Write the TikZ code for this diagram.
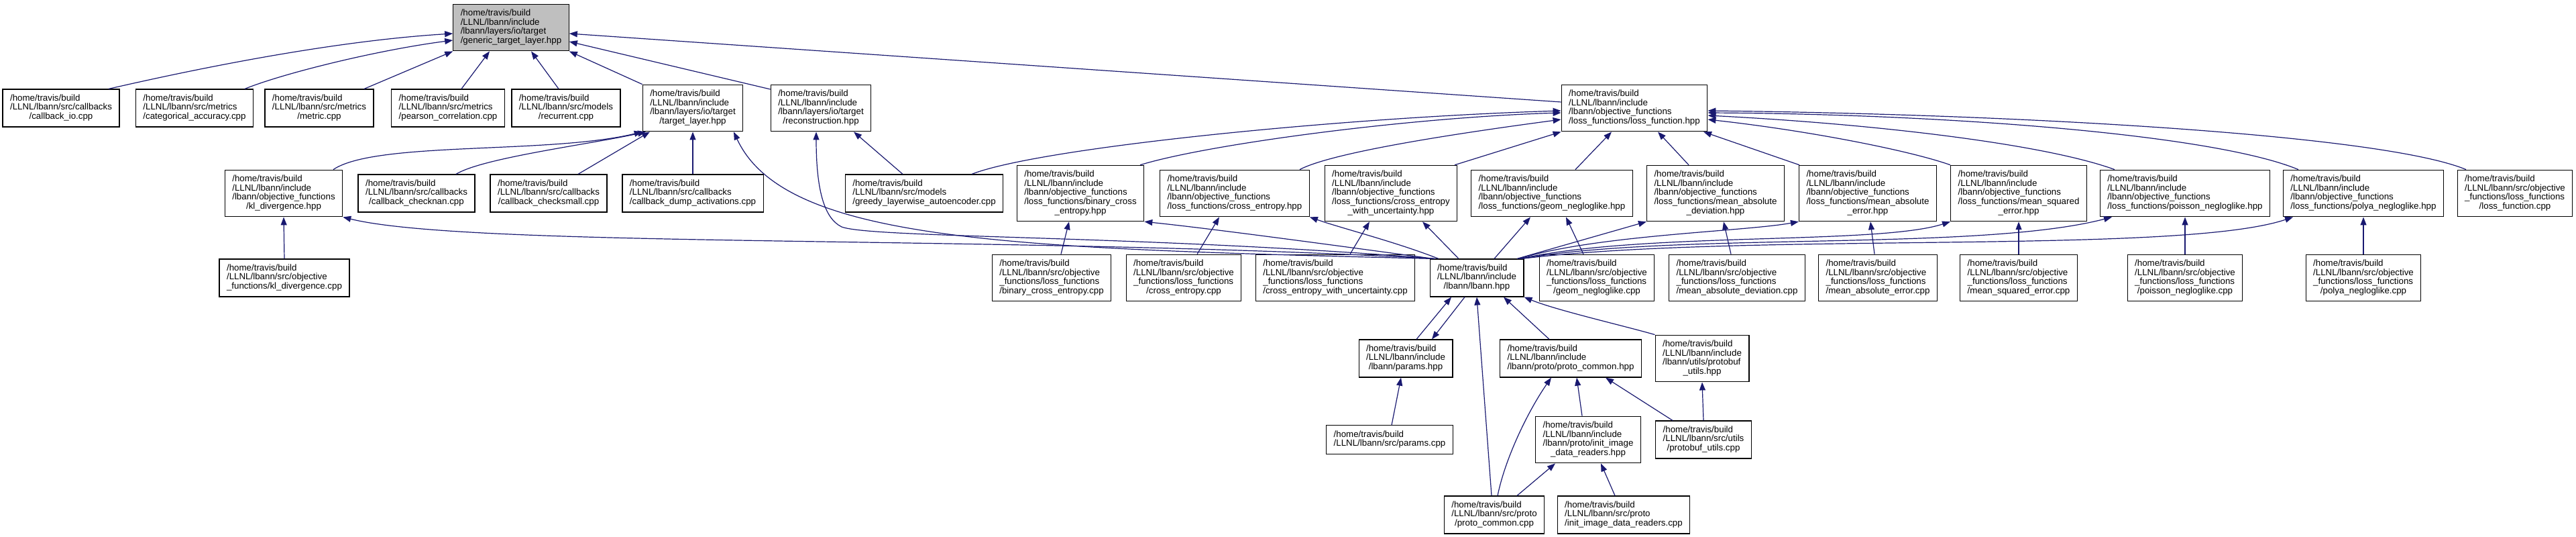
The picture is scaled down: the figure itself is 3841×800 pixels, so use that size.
\documentclass[tikz,border=0pt]{standalone}
\usepackage{fontspec}
\setmainfont{Liberation Sans}
\usetikzlibrary{arrows.meta}
\definecolor{edgeblue}{HTML}{191970}
\definecolor{rootgray}{HTML}{BFBFBF}
\newcommand{\flabel}[2]{\begin{tabular}{@{}l@{}}#1\\\multicolumn{1}{@{}c@{}}{#2}\end{tabular}}
\tikzset{
  >={Triangle[length=12pt,width=9pt]},
  file/.style={draw=black,line width=1.2pt,fill=white,inner xsep=11pt,inner ysep=7.5pt,font=\fontsize{13.33}{13.33}\selectfont},
  rootfile/.style={file,fill=rootgray},
  dep/.style={->,draw=edgeblue,line width=1.2pt}
}
\begin{document}
\begin{tikzpicture}[x=1pt,y=-1pt]
  \useasboundingbox (0,0) rectangle (3841,800);

  % header of the graph
  \node[rootfile] (gen) at (762,41) {\flabel{/home/travis/build\\/LLNL/lbann/include\\/lbann/layers/io/target}{/generic\_target\_layer.hpp}};

  % first row
  \node[file] (cbio) at (91,161) {\flabel{/home/travis/build\\/LLNL/lbann/src/callbacks}{/callback\_io.cpp}};
  \node[file] (catacc) at (290,161) {\flabel{/home/travis/build\\/LLNL/lbann/src/metrics}{/categorical\_accuracy.cpp}};
  \node[file] (metric) at (476,161) {\flabel{/home/travis/build\\/LLNL/lbann/src/metrics}{/metric.cpp}};
  \node[file] (pearson) at (668,161) {\flabel{/home/travis/build\\/LLNL/lbann/src/metrics}{/pearson\_correlation.cpp}};
  \node[file] (recur) at (844,161) {\flabel{/home/travis/build\\/LLNL/lbann/src/models}{/recurrent.cpp}};
  \node[file] (tlayer) at (1033,161) {\flabel{/home/travis/build\\/LLNL/lbann/include\\/lbann/layers/io/target}{/target\_layer.hpp}};
  \node[file] (recon) at (1224,161) {\flabel{/home/travis/build\\/LLNL/lbann/include\\/lbann/layers/io/target}{/reconstruction.hpp}};
  \node[file] (lossh) at (2437,161) {\flabel{/home/travis/build\\/LLNL/lbann/include\\/lbann/objective\_functions}{/loss\_functions/loss\_function.hpp}};

  % second row
  \node[file] (kldh) at (423,288) {\flabel{/home/travis/build\\/LLNL/lbann/include\\/lbann/objective\_functions}{/kl\_divergence.hpp}};
  \node[file] (cknan) at (621,288) {\flabel{/home/travis/build\\/LLNL/lbann/src/callbacks}{/callback\_checknan.cpp}};
  \node[file] (cksmall) at (818,288) {\flabel{/home/travis/build\\/LLNL/lbann/src/callbacks}{/callback\_checksmall.cpp}};
  \node[file] (dumpact) at (1033,288) {\flabel{/home/travis/build\\/LLNL/lbann/src/callbacks}{/callback\_dump\_activations.cpp}};
  \node[file] (greedy) at (1378,288) {\flabel{/home/travis/build\\/LLNL/lbann/src/models}{/greedy\_layerwise\_autoencoder.cpp}};
  \node[file] (bceh) at (1611,288) {\flabel{/home/travis/build\\/LLNL/lbann/include\\/lbann/objective\_functions\\/loss\_functions/binary\_cross}{\_entropy.hpp}};
  \node[file] (ceh) at (1841,288) {\flabel{/home/travis/build\\/LLNL/lbann/include\\/lbann/objective\_functions}{/loss\_functions/cross\_entropy.hpp}};
  \node[file] (ceuh) at (2074,288) {\flabel{/home/travis/build\\/LLNL/lbann/include\\/lbann/objective\_functions\\/loss\_functions/cross\_entropy}{\_with\_uncertainty.hpp}};
  \node[file] (geomh) at (2314,288) {\flabel{/home/travis/build\\/LLNL/lbann/include\\/lbann/objective\_functions}{/loss\_functions/geom\_negloglike.hpp}};
  \node[file] (madh) at (2558,288) {\flabel{/home/travis/build\\/LLNL/lbann/include\\/lbann/objective\_functions\\/loss\_functions/mean\_absolute}{\_deviation.hpp}};
  \node[file] (maeh) at (2785,288) {\flabel{/home/travis/build\\/LLNL/lbann/include\\/lbann/objective\_functions\\/loss\_functions/mean\_absolute}{\_error.hpp}};
  \node[file] (mseh) at (3010,288) {\flabel{/home/travis/build\\/LLNL/lbann/include\\/lbann/objective\_functions\\/loss\_functions/mean\_squared}{\_error.hpp}};
  \node[file] (poish) at (3258,288) {\flabel{/home/travis/build\\/LLNL/lbann/include\\/lbann/objective\_functions}{/loss\_functions/poisson\_negloglike.hpp}};
  \node[file] (polyah) at (3524,288) {\flabel{/home/travis/build\\/LLNL/lbann/include\\/lbann/objective\_functions}{/loss\_functions/polya\_negloglike.hpp}};
  \node[file] (lossc) at (3750,288) {\flabel{/home/travis/build\\/LLNL/lbann/src/objective\\\_functions/loss\_functions}{/loss\_function.cpp}};

  % third row
  \node[file] (kldc) at (424,414) {\flabel{/home/travis/build\\/LLNL/lbann/src/objective}{\_functions/kl\_divergence.cpp}};
  \node[file] (bcec) at (1568,414) {\flabel{/home/travis/build\\/LLNL/lbann/src/objective\\\_functions/loss\_functions}{/binary\_cross\_entropy.cpp}};
  \node[file] (cec) at (1765,414) {\flabel{/home/travis/build\\/LLNL/lbann/src/objective\\\_functions/loss\_functions}{/cross\_entropy.cpp}};
  \node[file] (ceuc) at (1991,414) {\flabel{/home/travis/build\\/LLNL/lbann/src/objective\\\_functions/loss\_functions}{/cross\_entropy\_with\_uncertainty.cpp}};
  \node[file] (lbann) at (2202,414) {\flabel{/home/travis/build\\/LLNL/lbann/include}{/lbann/lbann.hpp}};
  \node[file] (geomc) at (2381,414) {\flabel{/home/travis/build\\/LLNL/lbann/src/objective\\\_functions/loss\_functions}{/geom\_negloglike.cpp}};
  \node[file] (madc) at (2590,414) {\flabel{/home/travis/build\\/LLNL/lbann/src/objective\\\_functions/loss\_functions}{/mean\_absolute\_deviation.cpp}};
  \node[file] (maec) at (2800,414) {\flabel{/home/travis/build\\/LLNL/lbann/src/objective\\\_functions/loss\_functions}{/mean\_absolute\_error.cpp}};
  \node[file] (msec) at (3010,414) {\flabel{/home/travis/build\\/LLNL/lbann/src/objective\\\_functions/loss\_functions}{/mean\_squared\_error.cpp}};
  \node[file] (poisc) at (3258,414) {\flabel{/home/travis/build\\/LLNL/lbann/src/objective\\\_functions/loss\_functions}{/poisson\_negloglike.cpp}};
  \node[file] (polyac) at (3524,414) {\flabel{/home/travis/build\\/LLNL/lbann/src/objective\\\_functions/loss\_functions}{/polya\_negloglike.cpp}};

  % below lbann.hpp
  \node[file] (parh) at (2096,534) {\flabel{/home/travis/build\\/LLNL/lbann/include}{/lbann/params.hpp}};
  \node[file] (protoh) at (2342,534) {\flabel{/home/travis/build\\/LLNL/lbann/include}{/lbann/proto/proto\_common.hpp}};
  \node[file] (pbuh) at (2538,534) {\flabel{/home/travis/build\\/LLNL/lbann/include\\/lbann/utils/protobuf}{\_utils.hpp}};
  \node[file] (parc) at (2072,655) {\flabel{/home/travis/build}{/LLNL/lbann/src/params.cpp}};
  \node[file] (inith) at (2368,655) {\flabel{/home/travis/build\\/LLNL/lbann/include\\/lbann/proto/init\_image}{\_data\_readers.hpp}};
  \node[file] (pbuc) at (2540,655) {\flabel{/home/travis/build\\/LLNL/lbann/src/utils}{/protobuf\_utils.cpp}};
  \node[file] (protoc) at (2228,767) {\flabel{/home/travis/build\\/LLNL/lbann/src/proto}{/proto\_common.cpp}};
  \node[file] (initc) at (2421,767) {\flabel{/home/travis/build\\/LLNL/lbann/src/proto}{/init\_image\_data\_readers.cpp}};

  % into generic_target_layer.hpp
  \draw[dep] ([xshift=71pt]cbio.north) .. controls (260,110) and (480,62) .. ([yshift=-9pt]gen.west);
  \draw[dep] ([xshift=75pt]catacc.north) .. controls (420,110) and (560,75) .. ([yshift=-19pt]gen.west);
  \draw[dep] ([xshift=67pt]metric.north) -- (gen.south west);
  \draw[dep] ([xshift=20pt]pearson.north) -- ([xshift=-32pt]gen.south);
  \draw[dep] ([xshift=-11pt]recur.north) -- ([xshift=30pt]gen.south);
  \draw[dep] (tlayer.north west) -- (gen.south east);
  \draw[dep] ([yshift=28pt]recon.west) -- ([yshift=-21pt]gen.east);
  \draw[dep] ([yshift=9pt]lossh.west) -- ([yshift=-9pt]gen.east);

  % into target_layer.hpp and reconstruction.hpp
  \draw[dep] ([xshift=74pt]kldh.north) .. controls (560,210) and (820,230) .. (tlayer.south west);
  \draw[dep] ([xshift=59pt]cknan.north) .. controls (720,235) and (880,215) .. ([xshift=-70pt]tlayer.south);
  \draw[dep] ([xshift=44pt]cksmall.north) -- ([xshift=-64pt]tlayer.south);
  \draw[dep] (dumpact.north) -- (tlayer.south);
  \draw[dep] ([xshift=-65pt]lbann.north) .. controls (1500,370) and (1170,360) .. ([xshift=61pt]tlayer.south);
  \draw[dep] ([xshift=-62pt]lbann.north) .. controls (1700,350) and (1300,355) .. (1255,338) .. controls (1228,325) and (1217,280) .. ([xshift=-7pt]recon.south);
  \draw[dep] ([xshift=-63pt]lbann.north) .. controls (1500,350) and (700,370) .. (kldh.south east);
  \draw[dep] ([xshift=-32pt]greedy.north) -- ([xshift=49pt]recon.south);

  % into loss_function.hpp
  \draw[dep] ([xshift=71pt]greedy.north) .. controls (1550,220) and (2000,175) .. ([yshift=-4pt]lossh.west);
  \draw[dep] ([xshift=89pt]bceh.north) .. controls (1800,215) and (2100,175) .. ([yshift=-7pt]lossh.west);
  \draw[dep] ([xshift=97pt]ceh.north) .. controls (1990,225) and (2200,195) .. ([yshift=-17pt]lossh.west);
  \draw[dep] ([xshift=95pt]ceuh.north) -- (lossh.south west);
  \draw[dep] ([xshift=35pt]geomh.north) -- ([xshift=-34pt]lossh.south);
  \draw[dep] ([xshift=-40pt]madh.north) -- ([xshift=35pt]lossh.south);
  \draw[dep] ([xshift=-102pt]maeh.north) -- ([xshift=103pt]lossh.south);
  \draw[dep] (mseh.north west) .. controls (2850,225) and (2700,195) .. ([yshift=-17pt]lossh.east);
  \draw[dep] ([xshift=-105pt]poish.north) .. controls (3050,215) and (2800,185) .. ([yshift=-11pt]lossh.east);
  \draw[dep] ([xshift=-97pt]polyah.north) .. controls (3300,200) and (2900,170) .. ([yshift=-7pt]lossh.east);
  \draw[dep] ([xshift=-73pt]lossc.north) .. controls (3550,200) and (3000,170) .. ([yshift=-4pt]lossh.east);

  % lbann.hpp includes the loss headers
  \draw[dep] ([xshift=-65pt]lbann.north) .. controls (1950,360) and (1800,340) .. (bceh.south east);
  \draw[dep] ([xshift=-57pt]lbann.north) .. controls (2080,360) and (2000,340) .. (ceh.south east);
  \draw[dep] ([xshift=-27pt]lbann.north) -- ([xshift=47pt]ceuh.south);
  \draw[dep] ([xshift=26pt]lbann.north) -- ([xshift=-32pt]geomh.south);
  \draw[dep] ([xshift=60pt]lbann.north) -- (madh.south west);
  \draw[dep] ([xshift=63pt]lbann.north) .. controls (2380,350) and (2600,345) .. (maeh.south west);
  \draw[dep] ([xshift=65pt]lbann.north) .. controls (2450,345) and (2800,365) .. (mseh.south west);
  \draw[dep] ([xshift=66pt]lbann.north) .. controls (2500,345) and (2950,375) .. ([xshift=-109pt]poish.south);
  \draw[dep] ([xshift=67pt]lbann.north) .. controls (2600,345) and (3250,380) .. ([xshift=-105pt]polyah.south);

  % sources into their headers
  \draw[dep] (kldc.north) -- (kldh.south);
  \draw[dep] ([xshift=14pt]bcec.north) -- ([xshift=-17pt]bceh.south);
  \draw[dep] ([xshift=20pt]cec.north) -- ([xshift=-23pt]ceh.south);
  \draw[dep] ([xshift=22pt]ceuc.north) -- ([xshift=-32pt]ceuh.south);
  \draw[dep] ([xshift=-20pt]geomc.north) -- ([xshift=21pt]geomh.south);
  \draw[dep] ([xshift=-9pt]madc.north) -- ([xshift=12pt]madh.south);
  \draw[dep] ([xshift=-5pt]maec.north) -- ([xshift=4pt]maeh.south);
  \draw[dep] (msec.north) -- (mseh.south);
  \draw[dep] (poisc.north) -- (poish.south);
  \draw[dep] (polyac.north) -- (polyah.south);

  % lower part
  \draw[dep] ([xshift=16pt]parh.north) -- ([xshift=-38pt]lbann.south);
  \draw[dep] ([xshift=-18pt]lbann.south) -- ([xshift=39pt]parh.north);
  \draw[dep] ([xshift=-4pt]protoc.north) -- (lbann.south);
  \draw[dep] ([xshift=-32pt]protoh.north) -- ([xshift=40pt]lbann.south);
  \draw[dep] (pbuh.north west) .. controls (2420,485) and (2320,462) .. (lbann.south east);
  \draw[dep] ([xshift=3pt]parc.north) -- ([xshift=-7pt]parh.south);
  \draw[dep] ([xshift=5pt]protoc.north) .. controls (2245,680) and (2280,610) .. ([xshift=-29pt]protoh.south);
  \draw[dep] ([xshift=-9pt]inith.north) -- ([xshift=9pt]protoh.south);
  \draw[dep] ([xshift=-46pt]pbuc.north) -- ([xshift=52pt]protoh.south);
  \draw[dep] (pbuc.north) -- (pbuh.south);
  \draw[dep] ([xshift=34pt]protoc.north) -- ([xshift=-49pt]inith.south);
  \draw[dep] ([xshift=-13pt]initc.north) -- ([xshift=19pt]inith.south);
\end{tikzpicture}
\end{document}
